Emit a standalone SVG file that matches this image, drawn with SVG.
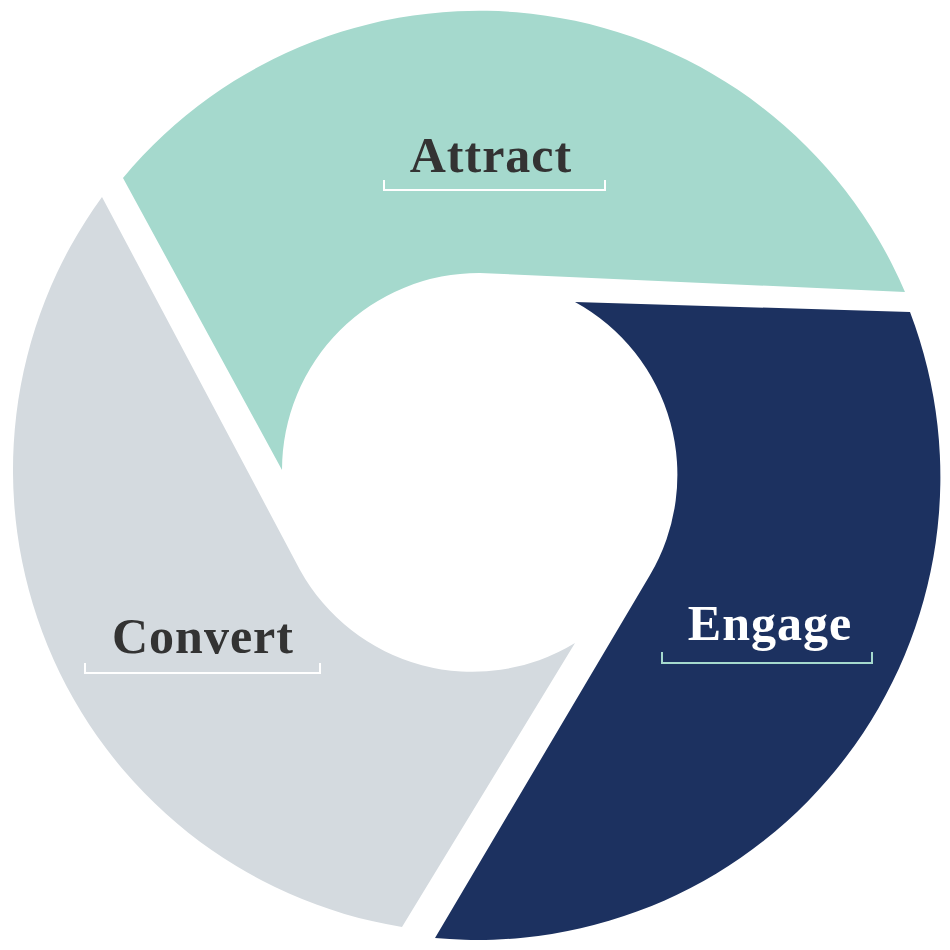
<svg xmlns="http://www.w3.org/2000/svg" width="950" height="950" viewBox="0 0 950 950">
<style>
.lbl{font-family:"Liberation Serif",serif;font-weight:bold;font-size:50px;text-anchor:middle;letter-spacing:1px}
.br{fill:none;stroke-width:2}
</style>
<rect width="950" height="950" fill="#fff"/>
<g id="attract">
<path d="M123,178 A463,463 0 0 1 905,292 L480,273 A197,197 0 0 0 282,470 Z" fill="#a5d9cd"/>
<text class="lbl" x="491" y="172" fill="#333">Attract</text>
<path class="br" stroke="#fff" d="M384,180 V190 H605 V180"/>
</g>
<g id="engage">
<path d="M575,302 L910,312 A463,463 0 0 1 435,938 L650,575 A197,197 0 0 0 575,302 Z" fill="#1c3160"/>
<text class="lbl" x="770" y="640" fill="#fff">Engage</text>
<path class="br" stroke="#a5d9cd" d="M662,652 V663 H872 V652"/>
</g>
<g id="convert">
<path d="M402,927 A463,463 0 0 1 102,197 L300,570 A197,197 0 0 0 575,643 Z" fill="#d4dadf"/>
<text class="lbl" x="203" y="653" fill="#333">Convert</text>
<path class="br" stroke="#fff" d="M85,663 V673 H320 V663"/>
</g>
<g id="connectors"/>
</svg>
